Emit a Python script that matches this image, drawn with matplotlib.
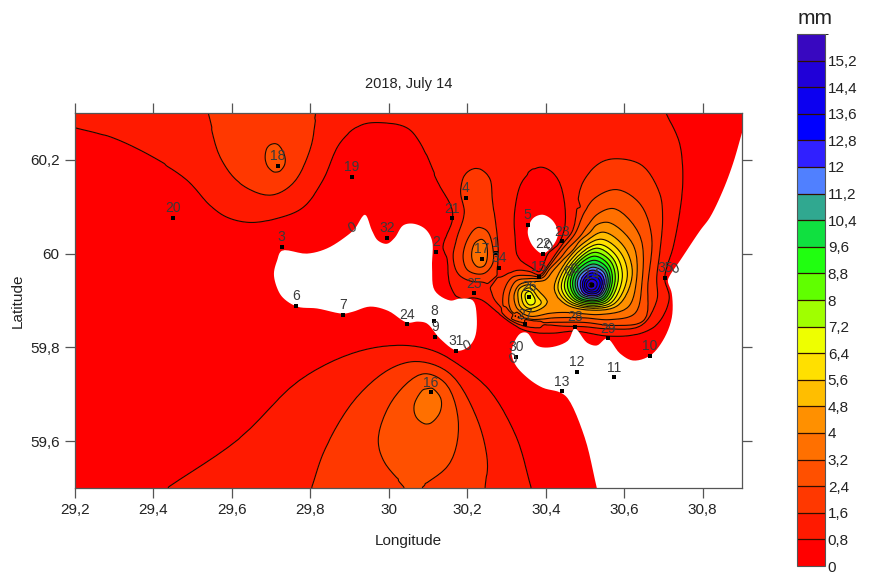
import numpy as np
import matplotlib
matplotlib.use("Agg")
import matplotlib.pyplot as plt
import matplotlib.tri as mtri
from matplotlib.colors import ListedColormap, BoundaryNorm
from matplotlib.cm import ScalarMappable
from matplotlib.patches import Polygon

plt.rcParams['font.family'] = ['Liberation Sans', 'DejaVu Sans']

levels = [0, 0.8, 1.6, 2.4, 3.2, 4, 4.8, 5.6, 6.4, 7.2, 8, 8.8, 9.6, 10.4, 11.2, 12, 12.8, 13.6, 14.4, 15.2, 16]
level_labels = ['0', '0,8', '1,6', '2,4', '3,2', '4', '4,8', '5,6', '6,4', '7,2', '8', '8,8', '9,6', '10,4', '11,2', '12', '12,8', '13,6', '14,4', '15,2']
band_colors = ['#ff0000', '#ff1a00', '#ff3800', '#ff5000', '#ff7000', '#ff9000', '#ffbe00', '#ffe000', '#eeff00', '#a0ff00',
               '#60ff00', '#20ff10', '#10e040', '#30a890', '#5080ff', '#3020ff', '#0000ff', '#0c00f0', '#2000d8', '#3808c0']

# stations: label, lon, lat
st_names = ['1','2','3','4','5','6','7','8','9','10','11','12','13','14','15','16','17','18','19','20','21','22','23','24','25','26','27','28','29','30','31','32','34','35']
st_lon = [30.273,30.120,29.727,30.196,30.354,29.763,29.883,30.115,30.117,30.665,30.573,30.479,30.441,30.517,30.382,30.107,30.237,29.717,29.906,29.450,30.161,30.392,30.441,30.046,30.217,30.357,30.347,30.474,30.558,30.324,30.171,29.995,30.280,30.703]
st_lat = [60.002,60.004,60.015,60.119,60.062,59.889,59.870,59.857,59.823,59.782,59.736,59.748,59.706,59.934,59.951,59.704,59.989,60.188,60.164,60.077,60.075,60.000,60.026,59.849,59.915,59.908,59.849,59.844,59.819,59.780,59.793,60.034,59.970,59.949]
zero_lon = [29.908, 30.201, 30.410, 30.316, 30.469, 30.729]
zero_lat = [60.055, 59.804, 60.017, 59.776, 59.964, 59.968]
zero_txt = ['0', '0', '0', '0', '00', '0']

# field samples
west_08 = [(29.2,60.267),(29.289,60.247),(29.399,60.203),(29.485,60.156),(29.544,60.102),(29.587,60.077),(29.646,60.066),(29.715,60.075),(29.781,60.098),(29.832,60.156),(29.875,60.235),(29.926,60.273),(29.985,60.279),(30.046,60.267),(30.079,60.235),(30.122,60.156),(30.161,60.098),(30.163,60.070),(30.138,60.013),(30.150,59.991),(30.156,59.936),(30.181,59.902),(30.214,59.906),(30.240,59.900),(30.283,59.872),(30.342,59.840),(30.410,59.831),(30.474,59.836),(30.558,59.825),(30.632,59.829),(30.685,59.851),(30.714,59.906),(30.701,59.947),(30.724,60.013),(30.742,60.092),(30.749,60.149),(30.742,60.235),(30.708,60.3)]
lobe5_08 = [(30.321,60.034),(30.321,60.092),(30.342,60.156),(30.385,60.183),(30.428,60.162),(30.451,60.077),(30.436,60.021),(30.408,60.000),(30.385,59.959),(30.359,59.970),(30.329,59.991)]
main_16 = [(30.224,60.183),(30.257,60.162),(30.265,60.113),(30.275,60.043),(30.278,60.006),(30.278,59.949),(30.326,59.964),(30.359,59.962),(30.385,59.955),(30.410,59.979),(30.443,60.021),(30.469,60.049),(30.492,60.149),(30.538,60.194),(30.584,60.203),(30.647,60.188),(30.691,60.128),(30.698,60.077),(30.691,60.006),(30.683,59.949),(30.683,59.900),(30.640,59.846),(30.558,59.840),(30.499,59.844),(30.436,59.846),(30.359,59.857),(30.308,59.874),(30.270,59.900),(30.250,59.936),(30.206,59.942),(30.176,59.957),(30.163,59.991),(30.173,60.034),(30.191,60.085),(30.181,60.134),(30.194,60.171)]
main_24 = [(30.581,60.137),(30.525,60.119),(30.497,60.087),(30.474,60.043),(30.443,60.011),(30.428,59.996),(30.403,59.968),(30.387,59.951),(30.359,59.953),(30.313,59.949),(30.291,59.910),(30.298,59.868),(30.347,59.851),(30.423,59.853),(30.499,59.853),(30.576,59.846),(30.652,59.857),(30.660,59.936),(30.670,60.038),(30.640,60.107)]
main_32 = [(30.576,60.096),(30.533,60.085),(30.507,60.060),(30.487,60.036),(30.456,60.011),(30.438,59.991),(30.410,59.968),(30.392,59.949),(30.359,59.947),(30.324,59.942),(30.306,59.910),(30.313,59.874),(30.359,59.859),(30.423,59.863),(30.499,59.863),(30.563,59.859),(30.627,59.872),(30.645,59.936),(30.640,60.038)]
main_40 = [(30.563,60.066),(30.530,60.062),(30.512,60.045),(30.487,60.028),(30.469,60.006),(30.446,59.989),(30.418,59.964),(30.398,59.945),(30.359,59.940),(30.334,59.934),(30.319,59.910),(30.329,59.881),(30.359,59.866),(30.410,59.872),(30.461,59.874),(30.538,59.870),(30.609,59.885),(30.630,59.936),(30.624,60.017)]
peak14_48 = [(30.547,60.046),(30.600,60.014),(30.6205,59.955),(30.584,59.890),(30.516,59.880),(30.450,59.893),(30.422,59.925),(30.461,59.994),(30.502,60.026)]
peak14_56 = [(30.539,60.031),(30.590,60.003),(30.608,59.952),(30.576,59.894),(30.516,59.884),(30.456,59.896),(30.4305,59.927),(30.464,59.987)]
peak14_64 = [(30.534,60.020),(30.579,59.996),(30.595,59.950),(30.567,59.8955),(30.516,59.886),(30.462,59.898),(30.4395,59.928),(30.467,59.981)]
peak14_72 = [(30.529,60.012),(30.571,59.990),(30.585,59.948),(30.561,59.899),(30.516,59.890),(30.468,59.901),(30.447,59.930),(30.470,59.976)]
peak14_80 = [(30.524,60.003),(30.565,59.984),(30.577,59.945),(30.556,59.901),(30.516,59.893),(30.473,59.903),(30.455,59.932),(30.4725,59.972)]
peak14_88 = [(30.523,59.995),(30.559,59.9775),(30.5695,59.943),(30.551,59.904),(30.516,59.897),(30.4785,59.906),(30.4625,59.933),(30.475,59.967)]
peak14_96 = [(30.522,59.986),(30.555,59.971),(30.564,59.941),(30.548,59.906),(30.516,59.899),(30.482,59.907),(30.468,59.933),(30.478,59.962)]
peak14_104 = [(30.520,59.978),(30.551,59.965),(30.559,59.940),(30.544,59.909),(30.516,59.903),(30.487,59.911),(30.475,59.933),(30.483,59.9575)]
peak14_112 = [(30.519,59.971),(30.547,59.961),(30.554,59.939),(30.541,59.913),(30.516,59.907),(30.491,59.914),(30.480,59.933),(30.487,59.954)]
peak14_120 = [(30.518,59.965),(30.5425,59.956),(30.549,59.939),(30.538,59.914),(30.516,59.910),(30.496,59.915),(30.488,59.933),(30.494,59.951)]
peak14_128 = [(30.516,59.959),(30.538,59.951),(30.544,59.937),(30.534,59.918),(30.516,59.914),(30.500,59.919),(30.493,59.933),(30.498,59.947)]
peak14_136 = [(30.516,59.952),(30.534,59.947),(30.539,59.937),(30.531,59.921),(30.516,59.918),(30.5035,59.922),(30.498,59.933),(30.502,59.9435)]
peak14_144 = [(30.516,59.946),(30.528,59.942),(30.531,59.935),(30.526,59.925),(30.516,59.922),(30.507,59.925),(30.503,59.933),(30.506,59.940)]
peak14_152 = [(30.516,59.939),(30.524,59.933),(30.516,59.927),(30.508,59.933)]
peak26_48 = [(30.331,59.925),(30.359,59.934),(30.385,59.917),(30.403,59.895),(30.367,59.876),(30.336,59.885),(30.329,59.906)]
peak26_56 = [(30.339,59.917),(30.359,59.927),(30.380,59.906),(30.390,59.895),(30.359,59.883),(30.344,59.891)]
peak26_64 = [(30.347,59.915),(30.359,59.921),(30.372,59.906),(30.377,59.895),(30.359,59.889),(30.349,59.898)]
peak17_24 = [(30.224,60.055),(30.199,60.028),(30.189,59.991),(30.201,59.964),(30.240,59.957),(30.265,59.979),(30.265,60.013),(30.250,60.049)]
peak17_32 = [(30.227,60.032),(30.212,60.011),(30.212,59.985),(30.227,59.970),(30.245,59.974),(30.252,60.006),(30.245,60.028)]
lobe18_16 = [(29.536,60.3),(29.569,60.205),(29.620,60.149),(29.697,60.124),(29.755,60.149),(29.799,60.220),(29.817,60.3)]
peak18_24 = [(29.692,60.230),(29.715,60.235),(29.735,60.209),(29.735,60.188),(29.715,60.171),(29.692,60.183),(29.684,60.205)]
lobe16_08 = [(29.429,59.5),(29.618,59.608),(29.768,59.729),(29.903,59.787),(30.018,59.804),(30.110,59.793),(30.191,59.755),(30.257,59.708),(30.326,59.608),(30.364,59.5)]
lobe16_16 = [(29.801,59.5),(29.837,59.586),(29.916,59.693),(30.008,59.757),(30.077,59.770),(30.156,59.744),(30.224,59.650),(30.252,59.558),(30.247,59.5)]
lobe16_24 = [(30.041,59.5),(29.985,59.558),(29.972,59.608),(30.013,59.693),(30.087,59.744),(30.145,59.723),(30.178,59.637),(30.156,59.552),(30.082,59.5)]
peak16_32 = [(30.099,59.718),(30.133,59.693),(30.130,59.659),(30.099,59.635),(30.069,59.650),(30.064,59.680)]

# level, samples, closed ring?
isolines = [(0.8, west_08, False), (0.8, lobe5_08, True), (1.6, main_16, True), (2.4, main_24, True), (3.2, main_32, True), (4.0, main_40, True),
            (4.8, peak14_48, True), (5.6, peak14_56, True), (6.4, peak14_64, True), (7.2, peak14_72, True), (8.0, peak14_80, True), (8.8, peak14_88, True),
            (9.6, peak14_96, True), (10.4, peak14_104, True), (11.2, peak14_112, True), (12.0, peak14_120, True), (12.8, peak14_128, True),
            (13.6, peak14_136, True), (14.4, peak14_144, True), (15.2, peak14_152, True), (4.8, peak26_48, True), (5.6, peak26_56, True), (6.4, peak26_64, True),
            (2.4, peak17_24, True), (3.2, peak17_32, True), (1.6, lobe18_16, False), (2.4, peak18_24, True), (0.8, lobe16_08, False), (1.6, lobe16_16, False),
            (2.4, lobe16_24, False), (3.2, peak16_32, True)]

# extra readings between the isolines: lon, lat, mm
extra_lon = [30.516,30.359,30.415,30.235,29.71,30.102,30.227,30.232,29.676,29.62,29.77,30.061,29.875,30.17,29.646,30.31,29.72,
             30.385,29.2,30.9,30.9,30.9,30.45,29.6,30.8,30.5,30.25,29.9,30.0,29.3,29.9,29.2,29.45,29.95,30.1,30.3,30.5,30.65,30.2,30.4,30.48,30.72,30.68,30.4,30.16,29.5,29.85,29.66,30.23]
extra_lat = [59.933,59.906,59.915,59.998,60.205,59.676,60.113,60.156,60.3,60.22,60.22,59.5,59.5,59.5,59.5,59.5,59.58,
             60.113,59.5,59.5,60.3,59.9,59.5,59.9,60.0,59.75,59.84,60.17,60.2,60.05,59.95,60.3,60.3,60.3,60.3,60.3,60.3,60.3,60.2,60.25,60.1,60.15,59.87,59.838,60.02,60.2,60.25,60.1,59.92]
extra_mm = [15.7,6.9,4.4,3.7,2.7,3.6,2.0,1.9,2.0,2.0,2.0,2.8,2.0,2.0,1.2,1.2,1.2,
            0.5,0.4,0.3,0.5,0.3,0.4,0.3,0.3,0.3,0.4,0.4,0.4,0.4,0.3,1.0,1.2,1.1,1.2,1.2,1.2,1.1,1.2,1.2,1.2,1.2,1.2,1.2,1.2,1.2,1.2,1.2,1.2]

# areas with no data (left blank in the map)
blank_a = [(29.727,60.006),(29.791,60.000),(29.842,60.011),(29.893,60.038),(29.913,60.053),(29.939,60.083),(29.957,60.049),(29.972,60.028),(29.995,60.021),(30.015,60.034),(30.036,60.060),(30.061,60.064),(30.092,60.053),(30.110,60.028),(30.110,59.970),(30.117,59.921),(30.156,59.900),(30.181,59.904),(30.214,59.900),(30.224,59.863),(30.219,59.821),(30.201,59.800),(30.173,59.793),(30.130,59.819),(30.097,59.851),(30.074,59.855),(30.046,59.853),(29.998,59.878),(29.952,59.887),(29.908,59.876),(29.883,59.872),(29.817,59.883),(29.766,59.887),(29.730,59.906),(29.715,59.927),(29.707,59.957),(29.715,59.985)]
blank_b = [(30.354,60.049),(30.367,60.075),(30.392,60.083),(30.418,60.070),(30.431,60.043),(30.418,60.017),(30.392,60.000),(30.372,60.011),(30.359,60.028)]
blank_c = [(30.9,60.258),(30.877,60.192),(30.851,60.134),(30.818,60.077),(30.793,60.049),(30.742,59.985),(30.716,59.953),(30.711,59.942),(30.721,59.915),(30.721,59.863),(30.698,59.814),(30.665,59.782),(30.622,59.772),(30.589,59.787),(30.556,59.819),(30.530,59.804),(30.505,59.810),(30.474,59.840),(30.456,59.814),(30.410,59.800),(30.377,59.804),(30.352,59.831),(30.334,59.829),(30.313,59.793),(30.321,59.765),(30.352,59.736),(30.392,59.714),(30.436,59.704),(30.456,59.691),(30.499,59.608),(30.530,59.5)]
blank_c_corner = (30.9, 59.5)

x_ticks = [29.2, 29.4, 29.6, 29.8, 30.0, 30.2, 30.4, 30.6, 30.8]
x_labels = ['29,2', '29,4', '29,6', '29,8', '30', '30,2', '30,4', '30,6', '30,8']
y_ticks = [59.6, 59.8, 60.0, 60.2]
y_labels = ['59,6', '59,8', '60', '60,2']


def rounded(pts, closed, sub=6):
    """Round an isoline through its read samples (centripetal Catmull-Rom)."""
    p = np.array(pts, float) * [1.0, 1.2]        # roughly equal units on screen
    if closed:
        q = np.vstack([p[-1], p, p[0], p[1]])
    else:
        q = np.vstack([2 * p[0] - p[1], p, 2 * p[-1] - p[-2]])
    out = []
    for i in range(1, len(q) - 2):
        p0, p1, p2, p3 = q[i - 1], q[i], q[i + 1], q[i + 2]
        t0 = 0.0
        t1 = t0 + np.linalg.norm(p1 - p0) ** 0.5
        t2 = t1 + np.linalg.norm(p2 - p1) ** 0.5
        t3 = t2 + np.linalg.norm(p3 - p2) ** 0.5
        for t in np.linspace(t1, t2, sub, endpoint=False):
            a1 = ((t1 - t) * p0 + (t - t0) * p1) / (t1 - t0)
            a2 = ((t2 - t) * p1 + (t - t1) * p2) / (t2 - t1)
            a3 = ((t3 - t) * p2 + (t - t2) * p3) / (t3 - t2)
            b1 = ((t2 - t) * a1 + (t - t0) * a2) / (t2 - t0)
            b2 = ((t3 - t) * a2 + (t - t1) * a3) / (t3 - t1)
            out.append(((t2 - t) * b1 + (t - t1) * b2) / (t2 - t1))
    if not closed:
        out.append(p[-1])
    return np.array(out) / [1.0, 1.2]


W, H = 884, 584
fig = plt.figure(figsize=(W / 100, H / 100), dpi=100)
ax = fig.add_axes([75 / W, 1 - 488 / H, 667 / W, 375 / H])

lon, lat, val = list(extra_lon), list(extra_lat), list(extra_mm)
for lev, pts, closed in isolines:
    c = rounded(pts, closed)
    lon.extend(c[:, 0]); lat.extend(c[:, 1]); val.extend([lev] * len(c))
lon, lat, val = np.array(lon), np.array(lat), np.array(val)
lon = np.clip(lon, 29.2, 30.9); lat = np.clip(lat, 59.5, 60.3)
_, keep = np.unique(np.round(np.c_[lon, lat], 4), axis=0, return_index=True)
tri = mtri.Triangulation(lon[keep], lat[keep])
gx, gy = np.meshgrid(np.linspace(29.2, 30.9, 1001), np.linspace(59.5, 60.3, 561))
gz = mtri.LinearTriInterpolator(tri, val[keep])(gx, gy).filled(0.4)
# light smoothing to soften the facets
for axis in (0, 1, 0, 1):
    gz = (np.roll(gz, 1, axis) + gz + np.roll(gz, -1, axis)) / 3
    if axis == 0:
        gz[0], gz[-1] = gz[1], gz[-2]
    else:
        gz[:, 0], gz[:, -1] = gz[:, 1], gz[:, -2]
gz = np.clip(gz, 0.02, 15.98)

draw_levels = [levels[0]] + [v + 0.01 for v in levels[1:-1]] + [levels[-1]]
ax.contourf(gx, gy, gz, levels=draw_levels, colors=band_colors, zorder=1)
ax.contour(gx, gy, gz, levels=draw_levels[1:-1], colors='#1a0a00', linewidths=0.8, zorder=2)
ax.add_patch(Polygon(rounded(blank_a, True), closed=True, facecolor='white', edgecolor='none', zorder=3))
ax.add_patch(Polygon(rounded(blank_b, True), closed=True, facecolor='white', edgecolor='none', zorder=3))
ax.add_patch(Polygon(np.vstack([rounded(blank_c, False), blank_c_corner]), closed=True, facecolor='white', edgecolor='none', zorder=3))

ax.scatter(st_lon, st_lat, marker='s', s=7, color='black', linewidths=0, zorder=5)
for n, a, b in zip(st_names, st_lon, st_lat):
    ax.annotate(n, (a, b), xytext=(0, 2), textcoords='offset points', ha='center', va='bottom',
                fontsize=10, color='#3a3a3a', zorder=6)
for t, a, b in zip(zero_txt, zero_lon, zero_lat):
    ax.text(a, b, t, ha='center', va='center', fontsize=10, color='#3a3a3a', rotation=25, zorder=6)

ax.set_xlim(29.2, 30.9)
ax.set_ylim(59.5, 60.3)
ax.set_xticks(x_ticks, x_labels)
ax.set_yticks(y_ticks, y_labels)
ax.tick_params(axis='both', which='major', direction='out', length=7, width=0.9, color='#555555',
               labelsize=11, labelcolor='#222222', top=True, right=True, pad=4)
for s in ax.spines.values():
    s.set_color('#555555'); s.set_linewidth(0.9); s.set_zorder(7)
ax.set_xlabel('Longitude', fontsize=11, color='#222222', labelpad=12)
ax.set_ylabel('Latitude', fontsize=11, color='#222222', labelpad=4)
ax.set_title('2018, July 14', fontsize=10.5, color='#222222', pad=18)

cmap = ListedColormap(band_colors)
norm = BoundaryNorm(levels, cmap.N)
cax = fig.add_axes([797 / W, 1 - 566 / H, 28 / W, 532 / H])
cb = fig.colorbar(ScalarMappable(norm=norm, cmap=cmap), cax=cax, ticks=levels[:-1], spacing='proportional', drawedges=True)
cb.ax.set_yticklabels(level_labels, fontsize=11, color='#222222')
cb.ax.tick_params(length=0, pad=2)
cb.dividers.set_color('#301000'); cb.dividers.set_linewidth(0.9)
cb.outline.set_edgecolor('#555555'); cb.outline.set_linewidth(0.8)
fig.text(815 / W, 1 - 18 / H, 'mm', fontsize=15, color='#222222', ha='center', va='center')

fig.savefig('out.png', dpi=100)
